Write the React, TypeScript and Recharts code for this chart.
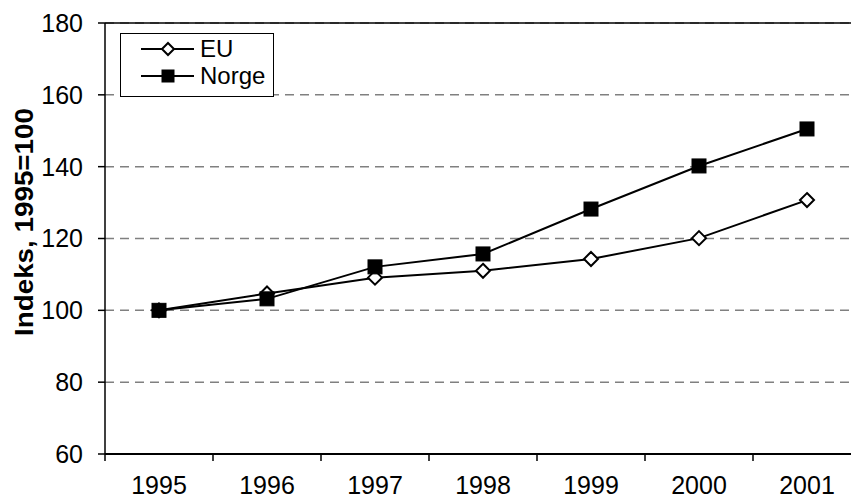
import React from 'react';
import { LineChart, Line, XAxis, YAxis, CartesianGrid, ReferenceLine } from 'recharts';

const years = ['1995', '1996', '1997', '1998', '1999', '2000', '2001'];
const euValues = [100, 104.7, 109.1, 111, 114.3, 120.1, 130.7];
const norgeValues = [100, 103.2, 112.1, 115.7, 128.2, 140.2, 150.5];
const yTicks = [60, 80, 100, 120, 140, 160, 180];

const data = years.map((year, i) => ({ year, EU: euValues[i], Norge: norgeValues[i] }));

const FONT = '"Liberation Sans", Arial, sans-serif';
const HALF_STEP = 54;

const Diamond = ({ cx, cy, size = 7 }: any) => (
  <polygon
    points={`${cx},${cy - size} ${cx + size},${cy} ${cx},${cy + size} ${cx - size},${cy}`}
    fill="#fff"
    stroke="#000"
    strokeWidth={2}
  />
);

const Square = ({ cx, cy, size = 7 }: any) => (
  <rect x={cx - size} y={cy - size} width={size * 2} height={size * 2} fill="#000" stroke="#000" />
);

// Excel-style: tick marks sit between categories, labels at the category centre
const XTick = (props: any) => {
  const { x, y, payload, index } = props;
  return (
    <g>
      <line x1={x - HALF_STEP} y1={y} x2={x - HALF_STEP} y2={y + 7} stroke="#000" strokeWidth={1.5} />
      {index === years.length - 1 && (
        <line x1={x + HALF_STEP} y1={y} x2={x + HALF_STEP} y2={y + 7} stroke="#000" strokeWidth={1.5} />
      )}
      <text x={x} y={y + 40} textAnchor="middle" fontSize={25} fontFamily={FONT} fill="#000">
        {payload.value}
      </text>
    </g>
  );
};

const YLabel = () => (
  <text
    x={0}
    y={0}
    transform="translate(33,222) rotate(-90)"
    textAnchor="middle"
    fontSize={25}
    fontWeight="bold"
    fontFamily={FONT}
    fill="#000"
    textLength={228}
    lengthAdjust="spacingAndGlyphs"
  >
    Indeks, 1995=100
  </text>
);

const LegendBox = () => (
  <div
    style={{
      position: 'absolute',
      left: 120,
      top: 33,
      width: 152,
      height: 62,
      border: '1px solid #000',
      background: '#fff',
      fontFamily: FONT,
      fontSize: 24,
    }}
  >
    {[
      { name: 'EU', Marker: Diamond, top: 1 },
      { name: 'Norge', Marker: Square, top: 28 },
    ].map(({ name, Marker, top }) => (
      <div key={name} style={{ position: 'absolute', left: 0, top, height: 28, width: 152 }}>
        <svg width={80} height={28} style={{ position: 'absolute', left: 0, top: 0 }}>
          <line x1={20} y1={14} x2={73} y2={14} stroke="#000" strokeWidth={2} />
          <Marker cx={47} cy={14} size={6} />
        </svg>
        <span style={{ position: 'absolute', left: 79, top: 0, lineHeight: '28px' }}>{name}</span>
      </div>
    ))}
  </div>
);

export default function App() {
  return (
    <div style={{ position: 'absolute', left: 0, top: 0, width: 851, height: 501, overflow: 'hidden', background: '#fff' }}>
      <LineChart width={870} height={501} data={data} margin={{ top: 23, right: 9, left: 0, bottom: 0 }}>
        <CartesianGrid horizontal vertical={false} stroke="#808080" strokeDasharray="9 6" strokeWidth={1.5} />
        <ReferenceLine y={180} stroke="#000" strokeWidth={1.5} />
        <XAxis
          dataKey="year"
          type="category"
          padding={{ left: HALF_STEP, right: HALF_STEP }}
          height={47}
          tickLine={false}
          tickSize={0}
          tickMargin={0}
          axisLine={{ stroke: '#000', strokeWidth: 2 }}
          tick={<XTick />}
          interval={0}
        />
        <YAxis
          domain={[60, 180]}
          ticks={yTicks}
          width={105}
          tickSize={7}
          tickMargin={15}
          interval={0}
          axisLine={{ stroke: '#000', strokeWidth: 1.5 }}
          tickLine={{ stroke: '#000', strokeWidth: 1.5 }}
          tick={{ fontSize: 25, fontFamily: FONT, fill: '#000' }}
          label={<YLabel />}
        />
        <Line
          dataKey="EU"
          stroke="#000"
          strokeWidth={2}
          isAnimationActive={false}
          dot={(p: any) => <Diamond key={`eu-${p.index}`} cx={p.cx} cy={p.cy} size={7} />}
        />
        <Line
          dataKey="Norge"
          stroke="#000"
          strokeWidth={2}
          isAnimationActive={false}
          dot={(p: any) => <Square key={`no-${p.index}`} cx={p.cx} cy={p.cy} size={7} />}
        />
      </LineChart>
      <LegendBox />
    </div>
  );
}
